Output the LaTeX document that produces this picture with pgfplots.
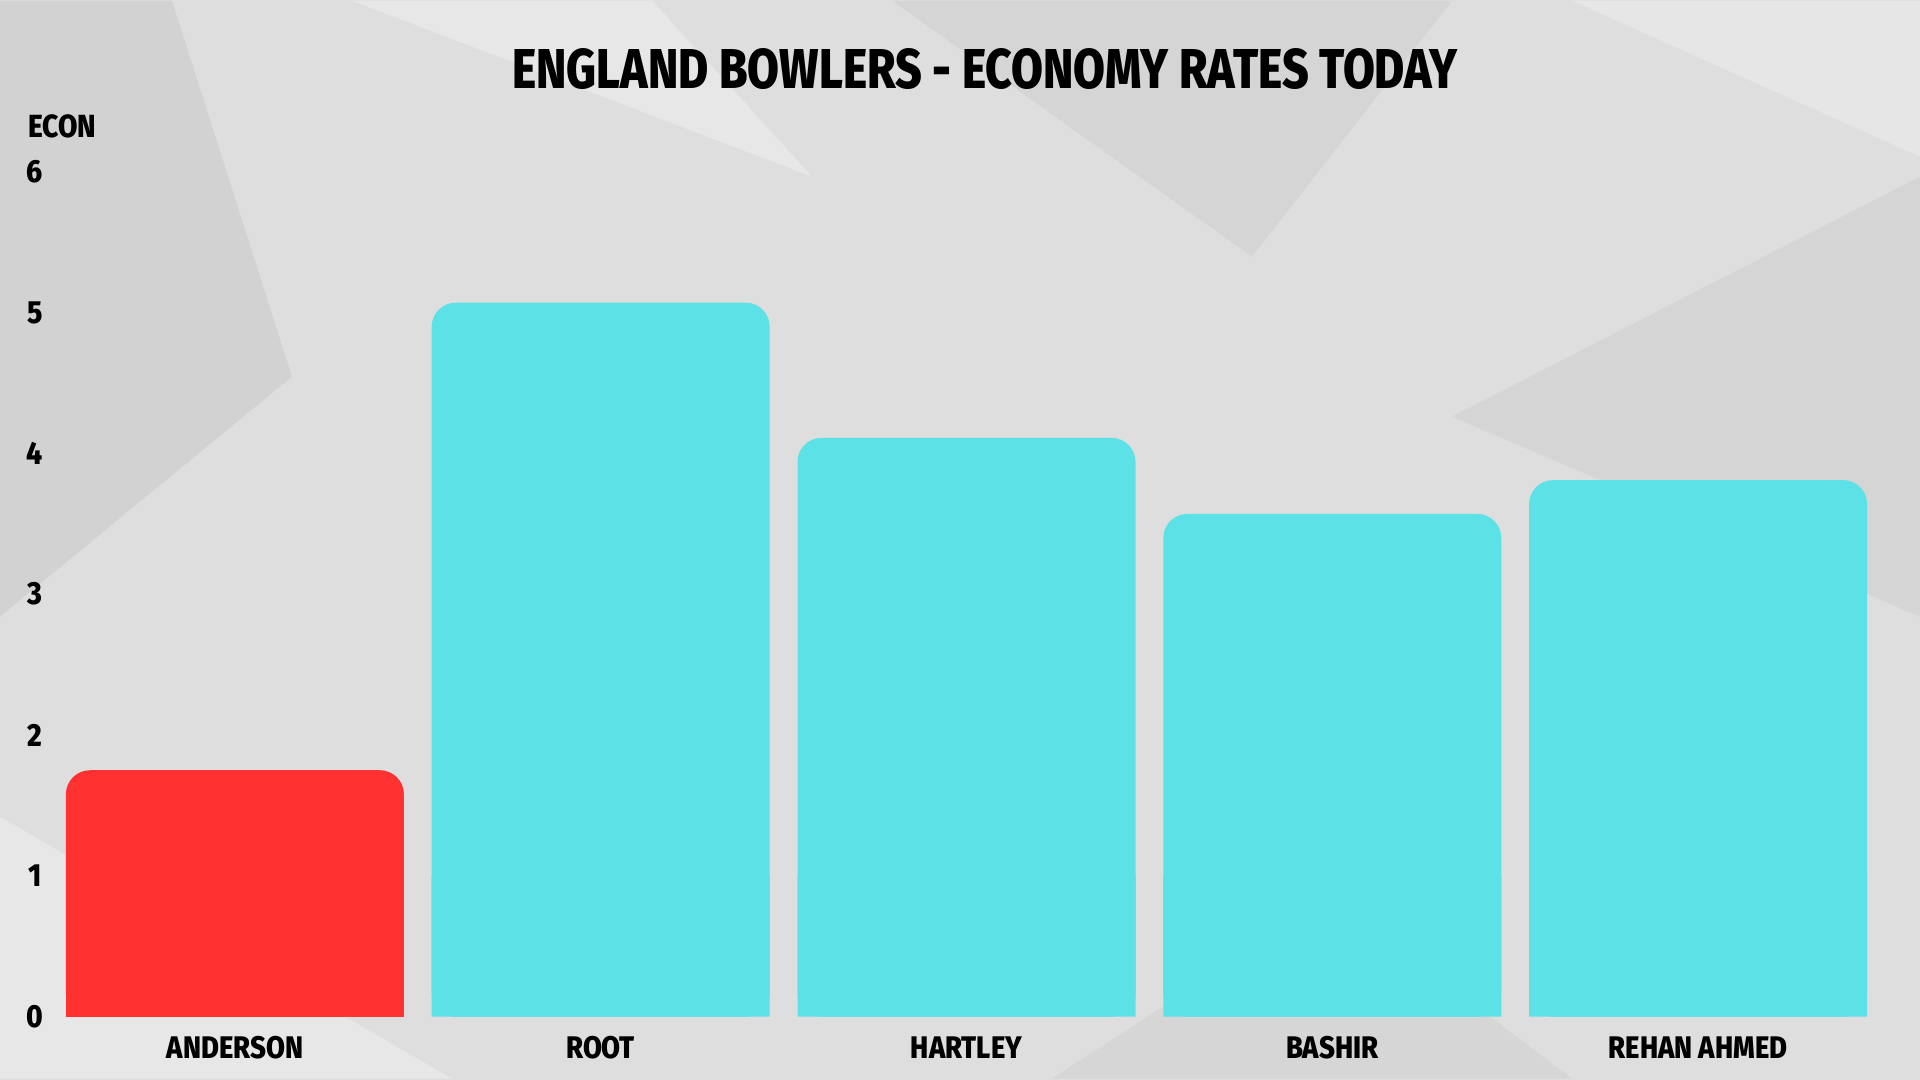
\documentclass[border=0pt]{standalone}
\usepackage{pgfplots}
\pgfplotsset{compat=1.18}
\usepackage{fontspec}
\setmainfont{Fira Sans}[BoldFont={Fira Sans ExtraBold}]
\newfontfamily\labfont{Fira Sans}[FakeStretch=0.88, BoldFont={Fira Sans ExtraBold}]
\definecolor{bgcol}{HTML}{DEDEDE}
\definecolor{bgdark}{HTML}{C8C8C8}
\definecolor{bglight}{HTML}{EEEEEE}
\definecolor{redbar}{HTML}{FF3131}
\definecolor{cyanbar}{HTML}{5CE1E6}
\begin{document}
\begin{tikzpicture}
\fill[bgcol] (-26pt,-31.65pt) rectangle (934pt,508.35pt);
\useasboundingbox (-26pt,-31.65pt) rectangle (934pt,508.35pt);
\begin{scope}
\clip (-26pt,-31.65pt) rectangle (934pt,508.35pt);
\fill[bgdark, opacity=0.5] (-26pt,200pt) -- (120pt,320pt) -- (60pt,508pt) -- (-26pt,508pt) -- cycle;
\fill[bglight, opacity=0.6] (150pt,508pt) -- (380pt,420pt) -- (300pt,508pt) -- cycle;
\fill[bgdark, opacity=0.4] (420pt,508pt) -- (600pt,380pt) -- (700pt,508pt) -- cycle;
\fill[bgdark, opacity=0.4] (700pt,300pt) -- (934pt,200pt) -- (934pt,420pt) -- cycle;
\fill[bglight, opacity=0.6] (-26pt,-31pt) -- (200pt,-31pt) -- (-26pt,100pt) -- cycle;
\fill[bgdark, opacity=0.35] (500pt,-31pt) -- (760pt,-31pt) -- (640pt,60pt) -- cycle;
\fill[bglight, opacity=0.5] (760pt,508pt) -- (934pt,508pt) -- (934pt,430pt) -- cycle;
\end{scope}
\begin{axis}[
  scale only axis, width=914.5pt, height=422.5pt,
  xmin=-0.5, xmax=4.5, ymin=0, ymax=6,
  axis line style={draw=none}, major tick length=0pt,
  xtick={0,1,2,3,4},
  xticklabels={ANDERSON,ROOT,HARTLEY,BASHIR,REHAN AHMED},
  ytick={0,1,2,3,4,5,6},
  /pgf/number format/assume math mode=true,
  tick label style={font=\labfont\bfseries\fontsize{16}{16}\selectfont, text=black},
  yticklabel style={anchor=center, xshift=-8.5pt},
  xticklabel style={anchor=center, yshift=-15.6pt, font=\labfont\bfseries\fontsize{15.6}{16}\selectfont},
  ylabel={ECON},
  every axis y label/.style={at={(axis description cs:0.0055,1.054)}, anchor=center, font=\labfont\bfseries\fontsize{16}{16}\selectfont},
  title={\resizebox{472.5pt}{20pt}{\bfseries ENGLAND BOWLERS - ECONOMY RATES TODAY}},
  every axis title/.style={at={(axis description cs:0.5101,1.1217)}, anchor=center},
]
\addplot[ybar, bar width=169pt, fill=redbar, draw=none, rounded corners=12pt] coordinates {(0,1.75)};
\addplot[ybar, bar width=169pt, fill=redbar, draw=none, y filter/.expression={min(y,1)}] coordinates {(0,1.75)};
\addplot[ybar, bar width=169pt, fill=cyanbar, draw=none, rounded corners=12pt] coordinates {(1,5.07) (2,4.11) (3,3.57) (4,3.81)};
\addplot[ybar, bar width=169pt, fill=cyanbar, draw=none, y filter/.expression={min(y,1)}] coordinates {(1,5.07) (2,4.11) (3,3.57) (4,3.81)};
\end{axis}
\end{tikzpicture}
\end{document}
